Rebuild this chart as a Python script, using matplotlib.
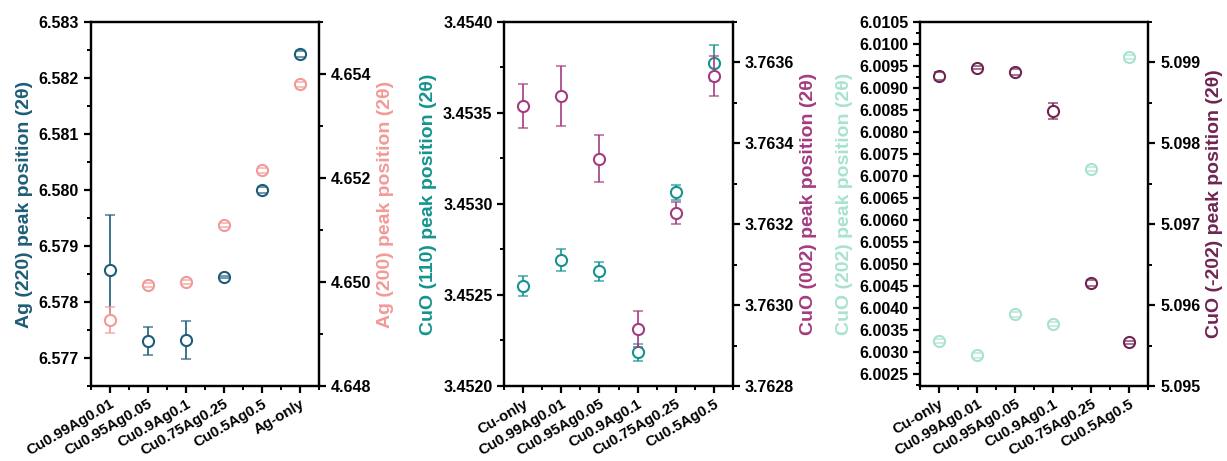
import matplotlib.pyplot as plt
from matplotlib.ticker import MultipleLocator, FixedLocator
import numpy as np

plt.rcParams['font.family'] = ['Liberation Sans', 'DejaVu Sans']
plt.rcParams['font.weight'] = 'bold'
plt.rcParams['axes.labelweight'] = 'bold'

# --- Ag peaks ---
ag_samples = ["Cu0.99Ag0.01", "Cu0.95Ag0.05", "Cu0.9Ag0.1", "Cu0.75Ag0.25", "Cu0.5Ag0.5", "Ag-only"]
ag220 = [6.57858, 6.57730, 6.57732, 6.57845, 6.58000, 6.58243]
ag220_err = [0.00097, 0.00025, 0.00034, 0.00002, 0.00005, 0.00005]
ag200 = [4.64926, 4.64994, 4.65000, 4.65109, 4.65215, 4.65380]
ag200_err = [0.00025, 0.00004, 0.00004, 0.00004, 0.00005, 0.00005]

# --- CuO (110) / (002) ---
cu_samples = ["Cu-only", "Cu0.99Ag0.01", "Cu0.95Ag0.05", "Cu0.9Ag0.1", "Cu0.75Ag0.25", "Cu0.5Ag0.5"]
cuo110 = [3.452551, 3.452692, 3.452630, 3.452185, 3.453064, 3.453776]
cuo110_err = [0.000055, 0.00006, 0.000053, 0.000045, 0.00004, 0.0001]
cuo002 = [3.763493, 3.763516, 3.763362, 3.762941, 3.763228, 3.763567]
cuo002_err = [0.000054, 0.000074, 0.000058, 0.000045, 0.000028, 0.00005]

# --- CuO (202) / (-202) ---
cuo202 = [6.003243, 6.002916, 6.003848, 6.003630, 6.007156, 6.009704]
cuo202_err = [0.00005, 0.00005, 0.00005, 0.00005, 0.00005, 0.00005]
cuo_202 = [5.098836, 5.098935, 5.098885, 5.098399, 5.096272, 5.095542]
cuo_202_err = [0.00005, 0.00002, 0.00004, 0.0001, 0.00004, 0.00002]

panels = [
    dict(names=ag_samples,
         left=(ag220, ag220_err, "#1d5d78", "Ag (220) peak position (2θ)", (6.5765, 6.583), 0.001, 0.0005, "%.3f"),
         right=(ag200, ag200_err, "#f29a97", "Ag (200) peak position (2θ)", (4.648, 4.655), 0.002, 0.001, "%.3f")),
    dict(names=cu_samples,
         left=(cuo110, cuo110_err, "#14948f", "CuO (110) peak position (2θ)", (3.4520, 3.4540), 0.0005, 0.00025, "%.4f"),
         right=(cuo002, cuo002_err, "#a33b80", "CuO (002) peak position (2θ)", (3.7628, 3.7637), 0.0002, 0.0001, "%.4f")),
    dict(names=cu_samples,
         left=(cuo202, cuo202_err, "#a8e2d0", "CuO (202) peak position (2θ)", (6.00222, 6.0105), 0.0005, 0.00025, "%.4f"),
         right=(cuo_202, cuo_202_err, "#6f2451", "CuO (-202) peak position (2θ)", (5.095, 5.0995), 0.001, 0.0005, "%.3f")),
]

fig = plt.figure(figsize=(12.27, 4.61), dpi=100)
lefts = [0.0739, 0.411, 0.7498]

def style(ax, side):
    for s in ax.spines.values():
        s.set_linewidth(1.6)
    ax.tick_params(axis='y', which='major', direction='out', length=5, width=1.6, labelsize=11.5)
    ax.tick_params(axis='y', which='minor', direction='out', length=3, width=1.4)
    if side == 'left':
        ax.tick_params(axis='y', left=True, right=False, which='both')
    else:
        ax.tick_params(axis='y', left=False, right=True, which='both')

def draw(ax, x, vals, errs, color):
    # error bars behind the open circles, caps on top of them
    _, caps, bars = ax.errorbar(x, vals, yerr=errs, fmt='none', ecolor=color,
                                elinewidth=1.2, capsize=3.5, capthick=1.1)
    for b in bars:
        b.set_zorder(2)
    for c in caps:
        c.set_zorder(4)
        c.set_alpha(0.8)
    ax.plot(x, vals, 'o', ms=8, mfc='white', mec=color, mew=1.5, zorder=3)

for i, p in enumerate(panels):
    ax = fig.add_axes([lefts[i], 0.1627, 0.1862, 0.7896])
    ax2 = ax.twinx()
    x = np.arange(len(p['names']))

    vals, errs, color, label, lim, major, minor, fmt = p['left']
    draw(ax, x, vals, errs, color)
    ax.set_ylim(*lim)
    ax.yaxis.set_major_locator(MultipleLocator(major))
    ax.yaxis.set_minor_locator(MultipleLocator(minor))
    ax.yaxis.set_major_formatter(plt.FormatStrFormatter(fmt))
    ax.set_ylabel(label, color=color, fontsize=14, labelpad=4)
    style(ax, 'left')

    vals, errs, color, label, lim, major, minor, fmt = p['right']
    draw(ax2, x, vals, errs, color)
    ax2.set_ylim(*lim)
    ax2.yaxis.set_major_locator(MultipleLocator(major))
    ax2.yaxis.set_minor_locator(MultipleLocator(minor))
    ax2.yaxis.set_major_formatter(plt.FormatStrFormatter(fmt))
    ax2.set_ylabel(label, color=color, fontsize=14, labelpad=4)
    style(ax2, 'right')

    ax.set_xlim(-0.5, len(x) - 0.5)
    ax.set_xticks(x)
    ax.xaxis.set_minor_locator(FixedLocator(np.arange(-0.5, len(x), 1.0)))
    ax.set_xticklabels(p['names'], rotation=30, ha='right', rotation_mode='anchor', fontsize=10.8)
    ax.tick_params(axis='x', which='major', direction='out', length=5, width=1.6, pad=3)
    ax.tick_params(axis='x', which='minor', direction='out', length=3, width=1.4)

fig.savefig("out.png", dpi=100)
